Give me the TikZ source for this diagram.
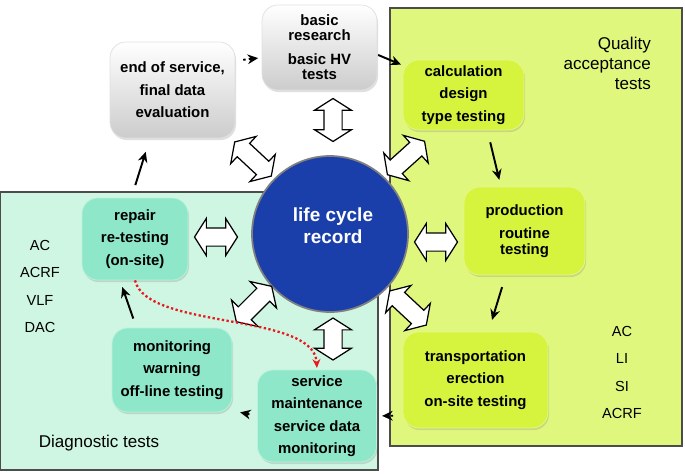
\documentclass[tikz,border=0pt]{standalone}
\usepackage{fontspec}
\setmainfont{Liberation Sans}
\usepackage{tikz}
\usetikzlibrary{positioning,arrows.meta,shapes.arrows,shadows}
\definecolor{qualbg}{RGB}{223,247,125}
\definecolor{diagbg}{RGB}{206,246,226}
\definecolor{limefill}{RGB}{214,243,62}
\definecolor{mintfill}{RGB}{142,231,200}
\definecolor{lcblue}{RGB}{26,62,170}
\definecolor{dotred}{RGB}{232,24,30}

\begin{document}
\begin{tikzpicture}[x=0.02cm,y=-0.02cm,
	panel/.style={draw=black!70,line width=0.6pt},
	box/.style={rounded corners=9pt,align=center,inner sep=0pt,
		font=\bfseries\fontsize{8.5}{12.8}\selectfont,
		drop shadow={opacity=0.25,shadow xshift=0.6pt,shadow yshift=-1.2pt}},
	graybox/.style={box,draw=black!12,top color=white,bottom color=black!20},
	limebox/.style={box,draw=limefill!60!white,fill=limefill},
	mintbox/.style={box,draw=mintfill!60!white,fill=mintfill},
	hollow/.style={double arrow,draw,fill=white,line width=0.7pt,inner xsep=0pt,inner ysep=0.17cm,
		minimum width=0.72cm,double arrow head extend=0.19cm,double arrow tip angle=115},
	flow/.style={-{Stealth[length=6pt,width=5.5pt]},line width=1.1pt},
	dotflow/.style={flow,dash pattern=on 1.4pt off 1.8pt},
	redflow/.style={-{Stealth[length=5pt,width=4.5pt]},dotred,line width=1.3pt,dash pattern=on 1.3pt off 1.4pt},
	side/.style={align=center,font=\fontsize{8.3}{15.4}\selectfont},
	caption/.style={font=\fontsize{9.7}{11.4}\selectfont}]
	\useasboundingbox (0,0) rectangle (685,473);
	\draw [panel,fill=diagbg] (0.5,192) rectangle (378,470);
	\draw [panel,fill=qualbg] (390,8) rectangle (682,446);

	\node [graybox,minimum width=2.3cm,minimum height=1.7cm] (basic) at (319.5,47.5) {basic\\[-4.3pt]research\\[0.8pt]basic HV\\[-4.3pt]tests};
	\node [graybox,minimum width=2.5cm,minimum height=1.92cm] (endsvc) at (172.5,90) {end of service,\\final data\\evaluation};
	\node [limebox,minimum width=2.42cm,minimum height=1.4cm] (calc) at (463.5,95) {calculation\\design\\type testing};
	\node [limebox,minimum width=2.42cm,minimum height=1.76cm] (prod) at (524.5,231) {production\\routine\\[-3.7pt]testing};
	\node [limebox,minimum width=2.9cm,minimum height=1.92cm] (trans) at (475.5,380) {transportation\\erection\\on-site testing};
	\node [mintbox,minimum width=2.38cm,minimum height=1.84cm] (service) at (317,416) {service\\maintenance\\service data\\monitoring};
	\node [mintbox,minimum width=2.4cm,minimum height=1.68cm] (monit) at (172,370) {monitoring\\warning\\off-line testing};
	\node [mintbox,minimum width=2.12cm,minimum height=1.64cm] (repair) at (135,239) {repair\\re-testing\\(on-site)};

	\node [circle,draw=black!50,line width=1pt,fill=lcblue,minimum size=3.12cm] (record) at (330,234) {};
	\node [text=white,align=center,font=\bfseries\fontsize{10.8}{12.5}\selectfont] (recordlabel) at (333,226) {life cycle\\record};

	\node [hollow,minimum height=0.86cm,rotate=90] (hvbasic) at (333,120) {};
	\node [hollow,minimum height=0.84cm,rotate=90] (hvservice) at (333,339) {};
	\node [hollow,minimum height=0.86cm] (hvrepair) at (216,237) {};
	\node [hollow,minimum height=0.86cm] (hvprod) at (436,242) {};
	\node [hollow,minimum height=1cm,rotate=-43] (hvend) at (253,159) {};
	\node [hollow,minimum height=1cm,rotate=42] (hvcalc) at (406,158) {};
	\node [hollow,minimum height=1cm,rotate=45] (hvmonit) at (254,304) {};
	\node [hollow,minimum height=1cm,rotate=-43] (hvtrans) at (408,308) {};

	\node [caption,align=right,anchor=east] (qualtitle) at (657,63) {Quality\\acceptance\\tests};
	\node [caption] (diagtitle) at (99,443) {Diagnostic tests};
	\node [side] (diaglist) at (40,286.5) {AC\\ACRF\\VLF\\DAC};
	\node [side] (quallist) at (622,372.5) {AC\\LI\\SI\\ACRF};

	\draw [dotflow,shorten <=4.5pt,shorten >=2pt] (endsvc.25) -- (basic.190);
	\draw [flow,shorten <=0.5pt,shorten >=1pt] (basic.-7) -- (calc.154);
	\draw [flow,shorten <=7pt,shorten >=4pt] (calc.-56) -- (prod.118);
	\draw [flow,shorten <=7pt,shorten >=7pt] (prod.-113) -- (trans.75);
	\draw [dotflow,shorten <=5.5pt,shorten >=3pt] (trans.-154) -- (service.east);
	\draw [flow,shorten <=4.5pt,shorten >=4.5pt] (service.west) -- (monit.-34);
	\draw [flow,shorten <=5.5pt,shorten >=4pt] (monit.130) -- (repair.-110);
	\draw [flow,shorten <=7.5pt,shorten >=8pt] (repair.95) -- (endsvc.-115);
	\draw [redflow,shorten >=1pt] (repair.south) .. controls +(12,50) and +(-3,-58) .. (service.north);
\end{tikzpicture}
\end{document}
